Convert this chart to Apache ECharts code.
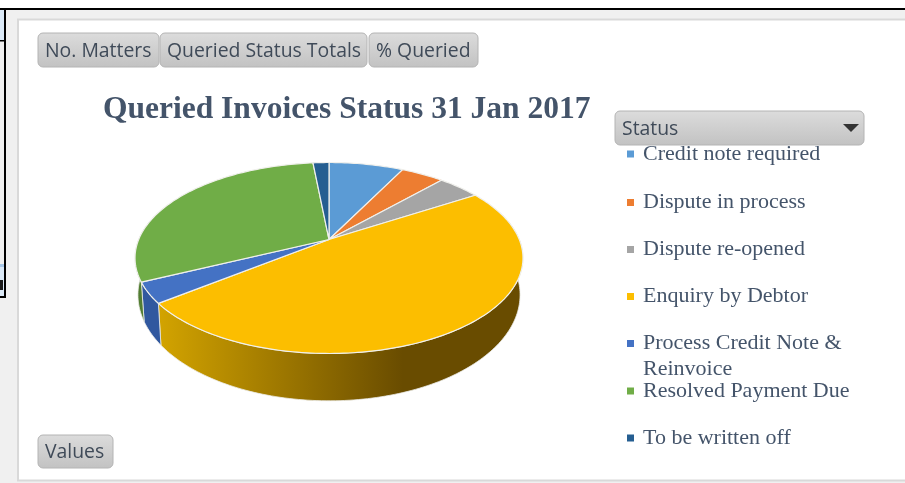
<!DOCTYPE html>
<html><head><meta charset="utf-8">
<style>html,body{margin:0;padding:0;background:#fff}#c{width:905px;height:483px}</style>
<script src="https://cdn.jsdelivr.net/npm/echarts@6/dist/echarts.min.js"></script>
</head><body><div id="c"></div>
<script>
const categories = ['Credit note required','Dispute in process','Dispute re-opened','Enquiry by Debtor','Process Credit Note & Reinvoice','Resolved Payment Due','To be written off'];
const shares = [7.5, 4.3, 4.3, 48.4, 3.5, 30.4, 1.6];
const colors = ['#5b9bd5','#ed7d31','#a5a5a5','#fcbe00','#4472c4','#70ad47','#255e91'];
const wallColors = ['#3f76a8','#b85c1f','#7c7c7c','#fcbe00','#31589f','#527d32','#1b4569'];
const fieldButtons = ['No. Matters','Queried Status Totals','% Queried'];
const titleText = 'Queried Invoices Status 31 Jan 2017';

const chart = echarts.init(document.getElementById('c'), null, {renderer:'canvas'});
const CX=329, CY=239.5, A=190.3, B=91.9, K=0.1937;
const WALL_SX=0.985, WALL_SY=1.11, WALL_Y=274.3;
function project(t){const u=Math.sin(t),v=-Math.cos(t),d=1-K*v;return [A*u/d,B*v/d];}
function rim(t){const p=project(t);return [CX+p[0],CY+p[1]];}
function low(t){const p=project(t);return [CX+p[0]*WALL_SX,WALL_Y+p[1]*WALL_SY];}
function arc(fn,a,b){const n=Math.max(2,Math.ceil((b-a)/0.02)),o=[];for(let i=0;i<=n;i++)o.push(fn(a+(b-a)*i/n));return o;}
const total=shares.reduce((s,v)=>s+v,0);
function angles(i){let s=0;for(let j=0;j<i;j++)s+=shares[j];return [s/total*2*Math.PI,(s+shares[i])/total*2*Math.PI];}

function wallFill(i){
  if(categories[i]==='Enquiry by Debtor')
    return new echarts.graphic.LinearGradient(160,0,403,0,[{offset:0,color:'#d2a300'},{offset:1,color:'#694c00'}],true);
  return wallColors[i];
}
function makeRender(i,part){
  return function(params,api){
    const [a,b]=angles(i);
    if(part==='wall'){
      const fr=Math.max(a,Math.PI*0.4),to=Math.min(b,Math.PI*1.6);
      if(to<=fr) return {type:'group',children:[]};
      const pts=arc(rim,fr,to).concat(arc(low,fr,to).reverse());
      return {type:'polygon',shape:{points:pts},style:{fill:wallFill(i),stroke:'#ecece8',lineWidth:0.8}};
    }
    const pts=[[CX,CY]].concat(arc(rim,a,b));
    return {type:'polygon',shape:{points:pts},style:{fill:colors[i],stroke:'#f0f0ec',lineWidth:1.2,lineJoin:'round'}};
  };
}
const series=[];
categories.forEach((n,i)=>{
  series.push({type:'custom',name:n,coordinateSystem:'none',silent:true,z:3,
    itemStyle:{color:colors[i]},data:[shares[i]],renderItem:makeRender(i,'wall')});
});
categories.forEach((n,i)=>{
  series.push({type:'custom',name:n,coordinateSystem:'none',silent:true,z:4,
    itemStyle:{color:colors[i]},data:[shares[i]],renderItem:makeRender(i,'top')});
});
const legendFont={fontFamily:'Liberation Serif',fontSize:22,color:'#44546a'};
const legendTops=[143,191.5,238.5,285.5,332.5,380,427];
const legends=categories.map((n,i)=>({
  data:[n],left:627,top:legendTops[i],orient:'horizontal',itemWidth:7,itemHeight:7,itemGap:0,padding:0,
  icon:'rect',selectedMode:false,textStyle:Object.assign({padding:[0,0,0,4]},legendFont),
  formatter:function(name){return name==='Process Credit Note & Reinvoice'?'Process Credit Note &':name;}
}));

function btn(x,y,w,h,label){
  return {type:'group',x:x,y:y,children:[
    {type:'rect',shape:{x:0,y:0,width:w,height:h,r:5},
     style:{fill:new echarts.graphic.LinearGradient(0,0,0,1,[{offset:0,color:'#dcdcdc'},{offset:1,color:'#c2c2c2'}]),stroke:'#b4b4b4',lineWidth:1}},
    {type:'text',x:7,y:h/2+1,style:{text:label,font:'19.4px "Open Sans"',fill:'#3f4a58',verticalAlign:'middle',align:'left'}}
  ]};
}
const graphic=[
  {type:'rect',z:-10,shape:{x:0,y:10,width:905,height:473},style:{fill:'#f0f0f0'}},
  {type:'rect',z:-9,shape:{x:18,y:19.5,width:890,height:461},style:{fill:'#ffffff',stroke:'#d9d9d9',lineWidth:2}},
  {type:'rect',z:-8,shape:{x:0,y:8,width:905,height:2},style:{fill:'#000000'}},
  {type:'rect',z:-8,shape:{x:0,y:10,width:4,height:30},style:{fill:'#dbe9f7'}},
  {type:'rect',z:-8,shape:{x:0,y:40,width:5,height:1.5},style:{fill:'#000000'}},
  {type:'rect',z:-8,shape:{x:4,y:10,width:2,height:288},style:{fill:'#000000'}},
  {type:'rect',z:-8,shape:{x:0,y:265,width:4,height:31},style:{fill:'#dbe9f7'}},
  {type:'rect',z:-8,shape:{x:0,y:264,width:4,height:3},style:{fill:'#a9c8e8'}},
  {type:'rect',z:-8,shape:{x:0,y:280,width:3,height:10},style:{fill:'#1a1a1a'}},
  {type:'rect',z:-8,shape:{x:0,y:296,width:6,height:2},style:{fill:'#000000'}},
  btn(38,33,121,34,fieldButtons[0]),
  btn(160,33,207,34,fieldButtons[1]),
  btn(369,33,109,34,fieldButtons[2]),
  btn(38,435,75,33,'Values'),
  btn(615,111,249,34,'Status'),
  {type:'polygon',shape:{points:[[843,124],[859,124],[851,132]]},style:{fill:'#333333'},z:10},
  {type:'text',x:643,y:369.5,style:{text:'Reinvoice',font:'22px "Liberation Serif"',fill:'#44546a',verticalAlign:'middle'}}
];
chart.setOption({
  animation:false,
  backgroundColor:'#fff',
  title:{text:titleText,left:103,top:94,padding:0,textStyle:{fontFamily:'Liberation Serif',fontWeight:'bold',fontSize:31.5,color:'#44546a'}},
  tooltip:{show:false},
  legend:legends,
  graphic:graphic,
  series:series
});
</script></body></html>
